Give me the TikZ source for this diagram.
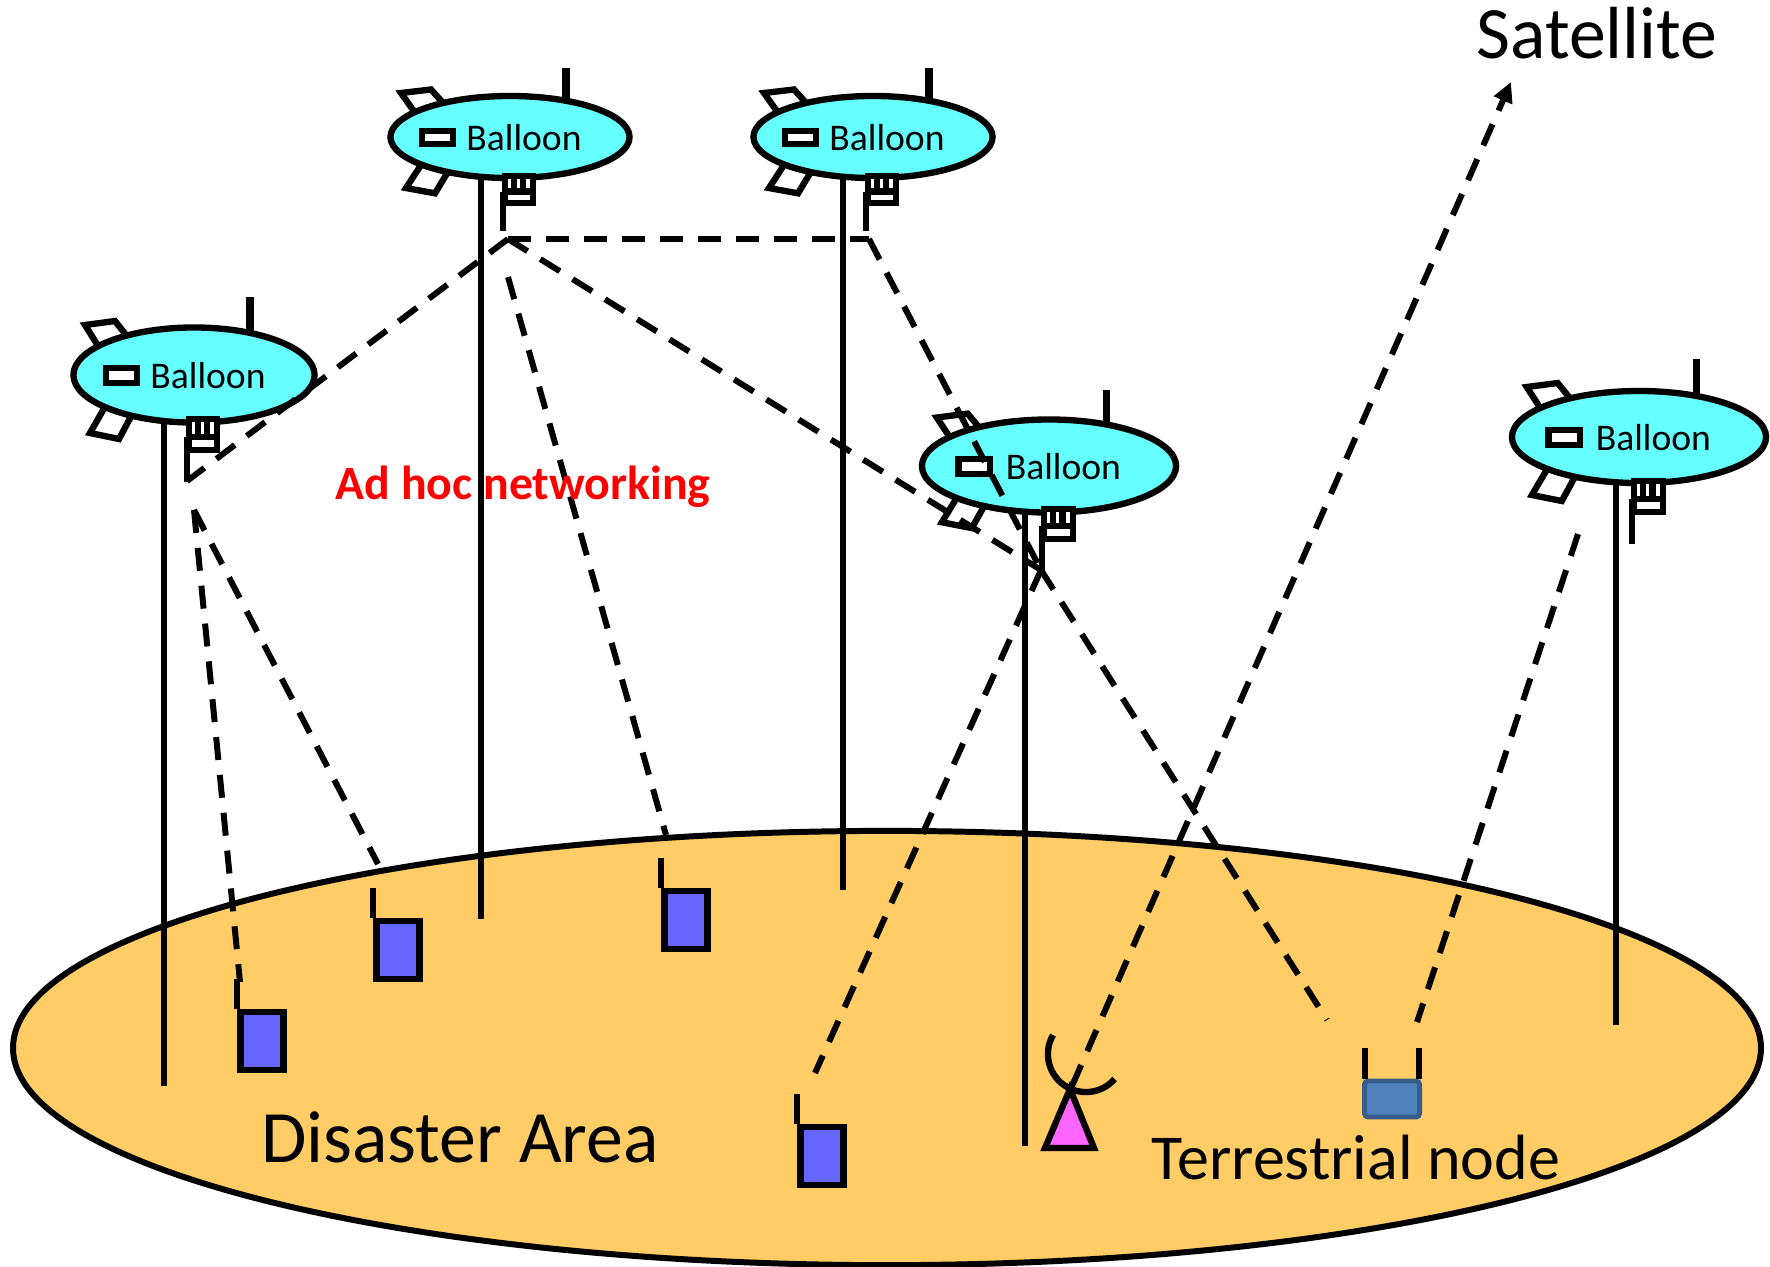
\documentclass[tikz,border=0pt]{standalone}
\usepackage{fontspec}
\setmainfont{Carlito}
\usetikzlibrary{shapes.geometric,arrows.meta}
\definecolor{groundcol}{HTML}{FFCC66}
\definecolor{balloncol}{HTML}{66FFFF}
\definecolor{phonecol}{HTML}{6666FF}
\definecolor{towercol}{HTML}{FF66FF}
\definecolor{termcol}{HTML}{4F81BD}
\definecolor{termedge}{HTML}{385D8A}
\tikzset{
  thing/.style={line width=1.8pt},
  pole/.style={line width=1.8pt},
  radiolink/.style={line width=1.7pt, dash pattern=on 0.23cm off 0.15cm},
  balloonbody/.style={ellipse, draw, line width=1.8pt, fill=balloncol, inner sep=0pt},
  phonebody/.style={rectangle, draw, line width=1.9pt, fill=phonecol, inner sep=0pt, minimum width=0.43cm, minimum height=0.58cm},
  biglabel/.style={font=\fontsize{21}{24}\selectfont, inner sep=0pt},
}
\begin{document}
\begin{tikzpicture}[x=0.01cm, y=-0.01cm]
  \useasboundingbox (0,0) rectangle (1770,1266);

  % ground
  \node[ellipse, draw, line width=1.7pt, fill=groundcol, inner sep=0pt, minimum width=17.47cm, minimum height=4.34cm] (ground) at (887,1048) {};

  % balloons
  \foreach \n/\bx/\by/\bw/\bh/\sx/\sy/\px/\pend in {
      1/194/375/2.41/0.95/1/1/164/1086,
      2/510/137/2.39/0.82/1/0.88/481/919,
      3/873/137/2.39/0.82/1/0.88/843/890,
      4/1049/466/2.54/0.93/1.03/0.97/1025/1146,
      5/1639/437/2.54/0.92/1.03/1/1616/1025}{
    \coordinate (top\n) at (\px,\by);
    \coordinate (foot\n) at (\px,\pend);
    \draw[pole] (top\n) -- (foot\n);
    \begin{scope}[shift={(\bx,\by)}, xscale=\sx, yscale=\sy]
      \draw[thing, fill=white] (-109,-50) -- (-79,-54) -- (-60,-30) -- (-94,-26) -- cycle;
      \draw[thing, fill=white] (-88,30) -- (-104,58) -- (-75,64) -- (-57,30) -- cycle;
      \draw[line width=2pt] (56,-78) -- (56,-40);
    \end{scope}
    \node[balloonbody, minimum width=\bw cm, minimum height=\bh cm] (b\n) at (\bx,\by) {};
    \begin{scope}[shift={(\bx,\by)}, xscale=\sx, yscale=\sy]
      \draw[thing, fill=white] (-88,-7) rectangle (-57,8);
      \draw[thing, fill=white] (-5,44) rectangle (23,75);
      \draw[thing] (-5,62) -- (23,62);
      \draw[thing] (4,44) -- (4,62);
      \draw[thing] (13,44) -- (13,62);
      \draw[thing] (-7,62) -- (-7,107);
      \node[font=\fontsize{10.7}{13}\selectfont, inner sep=0pt] (label\n) at (14,1) {Balloon};
    \end{scope}
  }

  % phones
  \foreach \n/\x/\y in {1/262/1041, 2/398/950, 3/686/920, 4/822/1156}{
    \node[phonebody] (ph\n) at (\x,\y) {};
    \draw[thing] (ph\n.north west) -- ++(0,-30);
  }

  % base station
  \node[inner sep=0pt] (dishA) at (1053,1035) {};
  \draw[thing, fill=towercol] (1045,1148) -- (1070,1089) -- (1094,1148) -- cycle;
  \draw[thing] (dishA.center) arc[start angle=150, end angle=319, radius=0.38cm];

  % terrestrial node
  \node[rectangle, draw=termedge, fill=termcol, line width=1.4pt, rounded corners=1pt, inner sep=0pt, minimum width=0.55cm, minimum height=0.36cm] (term) at (1392,1099) {};
  \draw[thing] (term.north west) ++(3,0) -- ++(0,-31);
  \draw[thing] (term.north east) ++(-3,0) -- ++(0,-31);

  % link ends
  \coordinate (hubA) at (508,239);
  \coordinate (hubB) at (869,239);
  \coordinate (hubC) at (1041,570);
  \coordinate (hubD) at (187,481);
  \coordinate (leftS) at (194,510);
  \coordinate (midS) at (508,277);
  \coordinate (rightS) at (1578,534);
  \coordinate (toPh1) at (240,982);
  \coordinate (toPh2) at (378,864);
  \coordinate (toPh3) at (666,835);
  \coordinate (toPh4) at (815,1073);
  \coordinate (toTermL) at (1327,1020);
  \coordinate (toTermR) at (1417,1022);
  \coordinate (tower) at (1072,1086);
  \coordinate (sat) at (1511,82);

  \draw[radiolink] (hubA) -- (hubB);
  \draw[radiolink] (hubA) -- (hubD);
  \draw[radiolink] (midS) -- (toPh3);
  \draw[radiolink] (hubA) -- (hubC);
  \draw[radiolink] (hubB) -- (hubC);
  \draw[radiolink] (hubC) -- (toTermL);
  \draw[radiolink] (hubC) -- (toPh4);
  \draw[radiolink] (leftS) -- (toPh2);
  \draw[radiolink] (leftS) -- (toPh1);
  \draw[radiolink] (rightS) -- (toTermR);
  \draw[radiolink, -{Triangle[length=0.2cm, width=0.19cm]}] (tower) -- (sat);

  % labels
  \node[biglabel] (satellite) at (1597,33) {Satellite};
  \node[biglabel] (disaster) at (460,1137) {Disaster Area};
  \node[font=\fontsize{18.2}{22}\selectfont, inner sep=0pt] (terrestrial) at (1356,1157) {Terrestrial node};
  \node[font=\fontsize{13.6}{16}\selectfont\bfseries, text=red, inner sep=0pt] (adhoc) at (523,487) {Ad hoc networking};
\end{tikzpicture}
\end{document}
